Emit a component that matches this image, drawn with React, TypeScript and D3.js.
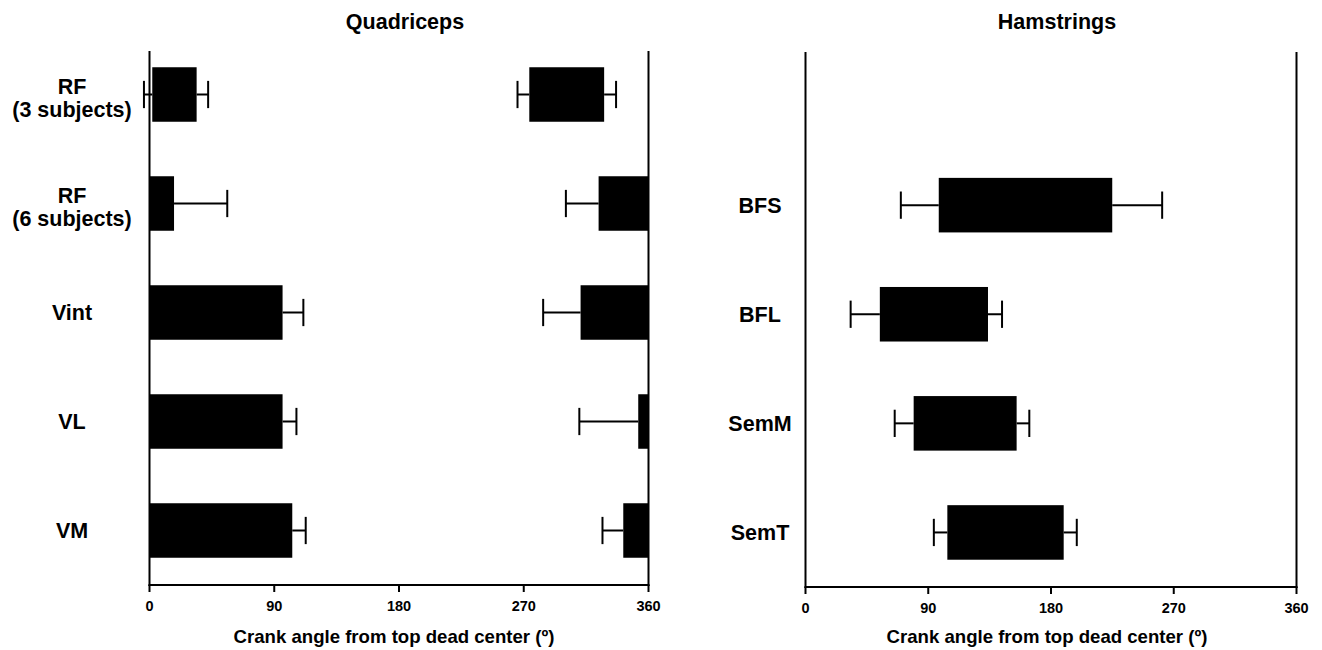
import React from "react";
import * as d3 from "d3";

// Crank-angle tick values shared by both panels
const angleTicks = [0, 90, 180, 270, 360];

// Quadriceps rows (top to bottom); label lines per row
const quadRows = ["RF3", "RF6", "Vint", "VL", "VM"];
const quadLabels = [["RF", "(3 subjects)"], ["RF", "(6 subjects)"], ["Vint"], ["VL"], ["VM"]];

// Quadriceps activation bursts: row, onset, offset, onset SD, offset SD (0 = no whisker)
const quadSegRow = ["RF3", "RF3", "RF6", "RF6", "Vint", "Vint", "VL", "VL", "VM", "VM"];
const quadSegOnset = [2, 274, 0, 324, 0, 311, 0, 352.6, 0, 341.8];
const quadSegOffset = [34, 328, 17.7, 360, 96, 360, 96, 360, 103, 360];
const quadSegOnsetSD = [6, 8.5, 0, 23.6, 0, 27, 0, 42.5, 0, 15];
const quadSegOffsetSD = [8.3, 8.6, 38.4, 0, 15, 0, 10, 0, 9.7, 0];

// Hamstrings rows (first slot left empty)
const hamRows = ["", "BFS", "BFL", "SemM", "SemT"];
const hamOnset = [97.7, 54.5, 79.3, 104];
const hamOffset = [224.9, 133.8, 154.8, 189.3];
const hamOnsetSD = [27.8, 21.4, 13.9, 9.9];
const hamOffsetSD = [36.6, 10.3, 9.3, 9.6];

const FONT = "'Liberation Sans', Arial, Helvetica, sans-serif";

type Seg = { row: string; on: number; off: number; onSD: number; offSD: number };

function Panel({
  title,
  rows,
  labels,
  segs,
  xRange,
  yRange,
  axisY,
  labelX,
  frameTop,
  titleX,
  axisTitleX,
}: {
  title: string;
  rows: string[];
  labels: string[][];
  segs: Seg[];
  xRange: [number, number];
  yRange: [number, number];
  axisY: number;
  labelX: number;
  frameTop: number;
  titleX: number;
  axisTitleX: number;
}) {
  const x = d3.scaleLinear().domain([0, 360]).range(xRange);
  const y = d3.scaleBand<string>().domain(rows).range(yRange).paddingInner(0.5).paddingOuter(0.25);
  const bw = y.bandwidth();
  const cap = bw / 2;

  return (
    <g>
      <text x={titleX} y={29} textAnchor="middle" fontFamily={FONT} fontWeight="bold" fontSize={21.5} fill="#000">
        {title}
      </text>
      {/* frame: left, right, bottom */}
      <line x1={x(0)} x2={x(0)} y1={frameTop} y2={axisY + 1} stroke="#000" strokeWidth={2} />
      <line x1={x(360)} x2={x(360)} y1={frameTop} y2={axisY + 1} stroke="#000" strokeWidth={2} />
      <line x1={x(0) - 1} x2={x(360) + 1} y1={axisY} y2={axisY} stroke="#000" strokeWidth={2} />
      {angleTicks.map((t) => (
        <g key={t}>
          <line x1={x(t)} x2={x(t)} y1={axisY} y2={axisY + 7} stroke="#000" strokeWidth={2} />
          <text x={x(t)} y={axisY + 26} textAnchor="middle" fontFamily={FONT} fontWeight="bold" fontSize={14.5} fill="#000">
            {t}
          </text>
        </g>
      ))}
      <text x={axisTitleX} y={643} textAnchor="middle" fontFamily={FONT} fontWeight="bold" fontSize={18.6} fill="#000">
        Crank angle from top dead center (º)
      </text>
      {/* row labels */}
      {rows.map((r, i) => {
        const lines = labels[i];
        if (!lines || lines.length === 0) return null;
        const cy = (y(r) as number) + bw / 2;
        if (lines.length === 1) {
          return (
            <text key={r} x={labelX} y={cy + 7.7} textAnchor="middle" fontFamily={FONT} fontWeight="bold" fontSize={21.5} fill="#000">
              {lines[0]}
            </text>
          );
        }
        return (
          <text key={r} textAnchor="middle" fontFamily={FONT} fontWeight="bold" fontSize={21.5} fill="#000">
            <tspan x={labelX} y={cy - 1}>{lines[0]}</tspan>
            <tspan x={labelX} y={cy + 22}>{lines[1]}</tspan>
          </text>
        );
      })}
      {/* activation bars with SD whiskers */}
      {segs.map((s, i) => {
        const top = y(s.row) as number;
        const cy = top + bw / 2;
        return (
          <g key={i}>
            {s.onSD > 0 && (
              <g stroke="#000" strokeWidth={2}>
                <line x1={x(s.on - s.onSD)} x2={x(s.on)} y1={cy} y2={cy} />
                <line x1={x(s.on - s.onSD)} x2={x(s.on - s.onSD)} y1={cy - cap / 2} y2={cy + cap / 2} />
              </g>
            )}
            {s.offSD > 0 && (
              <g stroke="#000" strokeWidth={2}>
                <line x1={x(s.off)} x2={x(s.off + s.offSD)} y1={cy} y2={cy} />
                <line x1={x(s.off + s.offSD)} x2={x(s.off + s.offSD)} y1={cy - cap / 2} y2={cy + cap / 2} />
              </g>
            )}
            <rect x={x(s.on)} y={top} width={x(s.off) - x(s.on)} height={bw} fill="#000" />
          </g>
        );
      })}
    </g>
  );
}

export default function App() {
  const quadSegs: Seg[] = quadSegRow.map((row, i) => ({
    row,
    on: quadSegOnset[i],
    off: quadSegOffset[i],
    onSD: quadSegOnsetSD[i],
    offSD: quadSegOffsetSD[i],
  }));
  const hamSegs: Seg[] = hamOnset.map((on, i) => ({
    row: hamRows[i + 1],
    on,
    off: hamOffset[i],
    onSD: hamOnsetSD[i],
    offSD: hamOffsetSD[i],
  }));

  return (
    <svg
      width={1322}
      height={650}
      style={{ position: "absolute", left: 0, top: 0, display: "block", background: "#fff" }}
    >
      <rect width={1322} height={650} fill="#fff" />
      <Panel
        title="Quadriceps"
        rows={quadRows}
        labels={quadLabels}
        segs={quadSegs}
        xRange={[149.5, 648.5]}
        yRange={[40, 585]}
        axisY={585}
        labelX={72}
        frameTop={51}
        titleX={405}
        axisTitleX={394}
      />
      <Panel
        title="Hamstrings"
        rows={hamRows}
        labels={hamRows.map((r) => (r ? [r] : []))}
        segs={hamSegs}
        xRange={[805.5, 1296.5]}
        yRange={[41.5, 587]}
        axisY={587}
        labelX={760}
        frameTop={52}
        titleX={1057}
        axisTitleX={1047}
      />
    </svg>
  );
}
